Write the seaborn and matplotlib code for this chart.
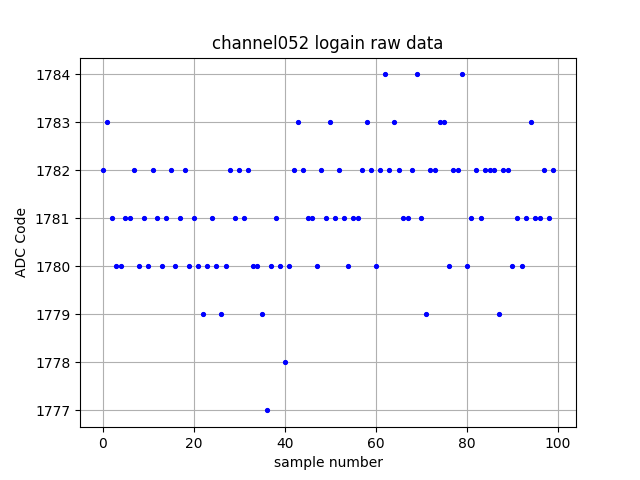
import numpy as np
import pandas as pd
import matplotlib
matplotlib.use("Agg")
import matplotlib.pyplot as plt
import seaborn as sns

# ADC codes read per sample (0..99)
adc_codes = [
    1782, 1783, 1781, 1780, 1780, 1781, 1781, 1782, 1780, 1781,
    1780, 1782, 1781, 1780, 1781, 1782, 1780, 1781, 1782, 1780,
    1781, 1780, 1779, 1780, 1781, 1780, 1779, 1780, 1782, 1781,
    1782, 1781, 1782, 1780, 1780, 1779, 1777, 1780, 1781, 1780,
    1778, 1780, 1782, 1783, 1782, 1781, 1781, 1780, 1782, 1781,
    1783, 1781, 1782, 1781, 1780, 1781, 1781, 1782, 1783, 1782,
    1780, 1782, 1784, 1782, 1783, 1782, 1781, 1781, 1782, 1784,
    1781, 1779, 1782, 1782, 1783, 1783, 1780, 1782, 1782, 1784,
    1780, 1781, 1782, 1781, 1782, 1782, 1782, 1779, 1782, 1782,
    1780, 1781, 1780, 1781, 1783, 1781, 1781, 1782, 1781, 1782,
]
sample_number = list(range(len(adc_codes)))

df = pd.DataFrame({"sample": sample_number, "adc": adc_codes})

fig, ax = plt.subplots(figsize=(6.4, 4.8), dpi=100)
sns.lineplot(data=df, x="sample", y="adc", ax=ax, color="b",
             marker=".", markersize=6, linestyle="", markeredgecolor="b")
ax.set_title("channel052 logain raw data")
ax.set_xlabel("sample number")
ax.set_ylabel("ADC Code")
ax.grid(True)
ax.ticklabel_format(useOffset=False, axis="y")

fig.savefig("out.png")
